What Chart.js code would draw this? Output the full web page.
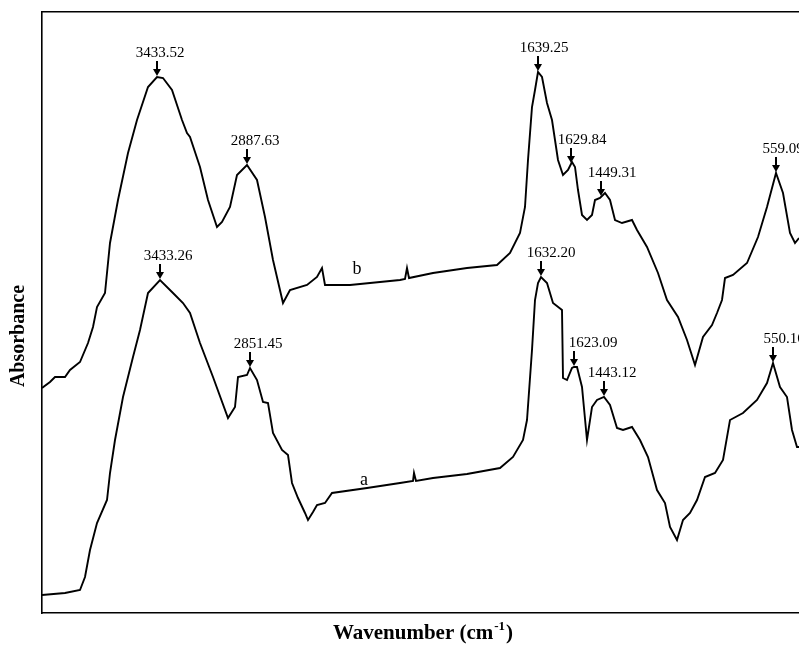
<!DOCTYPE html>
<html>
<head>
<meta charset="utf-8">
<script src="https://cdn.jsdelivr.net/npm/chart.js@4/dist/chart.umd.min.js"></script>
<style>
  body { margin: 0; background: #fff; }
  #wrap { width: 799px; height: 645px; overflow: hidden; }
</style>
</head>
<body>
<div id="wrap"><canvas id="spectrum" width="799" height="645"></canvas></div>
<script>
// positions along the wavenumber axis (arbitrary units, left = high wavenumber)
// and absorbance (arbitrary units, offset per curve)
var bX = [0, 8, 13, 23, 28, 38, 46, 51, 55, 63, 68, 76, 86, 95, 106, 115, 121, 130, 140, 145, 148, 158, 166, 175, 180, 188, 195, 205, 215, 223, 231, 241, 248, 265, 275, 280, 283, 308, 358, 363, 365, 367, 391, 425, 455, 468, 478, 483, 486, 490, 493, 496, 500, 505, 510, 513, 516, 521, 526, 530, 533, 536, 540, 545, 550, 553, 558, 563, 568, 573, 580, 590, 595, 605, 616, 625, 636, 645, 653, 661, 670, 675, 680, 683, 691, 705, 716, 725, 734, 741, 748, 753, 757];
var bY = [22.5, 23.1, 23.6, 23.6, 24.3, 25.1, 27.0, 28.6, 30.6, 32.0, 37.0, 41.3, 46.0, 49.3, 52.6, 53.6, 53.5, 52.3, 49.3, 48.0, 47.6, 44.6, 41.3, 38.6, 39.1, 40.6, 43.8, 44.8, 43.3, 39.6, 35.3, 31.0, 32.3, 32.8, 33.6, 34.5, 32.8, 32.8, 33.3, 33.4, 34.5, 33.5, 34.0, 34.5, 34.8, 36.0, 38.0, 40.6, 45.3, 50.6, 52.3, 54.1, 53.6, 51.0, 49.3, 47.3, 45.3, 43.8, 44.3, 45.1, 44.6, 42.3, 39.8, 39.3, 39.8, 41.3, 41.5, 42.0, 41.3, 39.3, 39.0, 39.3, 38.3, 36.6, 34.0, 31.3, 29.6, 27.3, 24.8, 27.6, 28.8, 30.0, 31.3, 33.5, 33.8, 35.0, 37.6, 40.6, 44.0, 42.0, 38.0, 37.0, 37.5];

var aX = [0, 23, 38, 43, 48, 55, 65, 68, 73, 81, 91, 98, 106, 118, 131, 141, 148, 158, 171, 186, 193, 196, 205, 208, 215, 221, 226, 231, 240, 246, 250, 256, 263, 266, 271, 275, 283, 290, 325, 358, 371, 372, 374, 391, 425, 458, 471, 481, 485, 490, 493, 496, 499, 505, 511, 520, 521, 525, 530, 532, 535, 540, 545, 550, 555, 562, 568, 575, 581, 590, 598, 606, 615, 623, 628, 635, 641, 648, 655, 663, 673, 681, 688, 701, 715, 725, 731, 738, 745, 750, 755, 757];
var aY = [1.8, 2.0, 2.3, 3.6, 6.3, 9.0, 11.3, 14.0, 17.3, 21.6, 25.6, 28.3, 32.0, 33.3, 32.0, 31.0, 30.0, 27.0, 23.6, 19.5, 20.6, 23.6, 23.8, 24.5, 23.3, 21.1, 21.0, 18.0, 16.3, 15.8, 13.0, 11.5, 10.0, 9.3, 10.1, 10.8, 11.0, 12.0, 12.5, 13.0, 13.2, 14.0, 13.2, 13.5, 13.9, 14.5, 15.6, 17.3, 19.3, 26.3, 31.3, 33.0, 33.6, 33.0, 31.0, 30.3, 23.5, 23.3, 24.5, 24.6, 24.6, 22.6, 17.3, 20.6, 21.3, 21.6, 20.8, 18.5, 18.3, 18.6, 17.3, 15.6, 12.3, 11.0, 8.6, 7.3, 9.3, 10.0, 11.3, 13.6, 14.0, 15.3, 19.3, 20.0, 21.3, 23.0, 25.0, 22.6, 21.6, 18.3, 16.6, 16.6];

// marked peaks (label text and axis position)
var bPeakLabels = ['3433.52', '2887.63', '1639.25', '1629.84', '1449.31', '559.09'];
var bPeakPos = [115, 205, 496, 529, 559, 734];
var aPeakLabels = ['3433.26', '2851.45', '1632.20', '1623.09', '1443.12', '550.16'];
var aPeakPos = [118, 208, 499, 532, 562, 731];

// curve names and where they sit
var curveNames = ['b', 'a'];
var curveNamePos = [[315, 34.5], [322, 13.4]];

function toPoints(xs, ys) {
    return xs.map(function (x, i) { return { x: x, y: ys[i] }; });
}

function valueAt(xs, ys, x) {
    for (var i = 1; i < xs.length; i++) {
        if (xs[i] >= x) {
            var t = (x - xs[i - 1]) / (xs[i] - xs[i - 1]);
            return ys[i - 1] + t * (ys[i] - ys[i - 1]);
        }
    }
    return ys[ys.length - 1];
}

var serif = '"Liberation Serif", "Times New Roman", serif';

// text shift of each peak label relative to its arrow
var bShift = [3, 8, 6, 11, 11, 7];
var aShift = [8, 8, 10, 19, 8, 11];

var peakMarks = {
    id: 'peakMarks',
    afterDatasetsDraw: function (chart) {
        var ctx = chart.ctx;
        var xs = chart.scales.x, ys = chart.scales.y;
        var groups = [
            [bPeakLabels, bPeakPos, bX, bY, bShift],
            [aPeakLabels, aPeakPos, aX, aY, aShift]
        ];
        ctx.save();
        ctx.fillStyle = '#000';
        ctx.strokeStyle = '#000';
        groups.forEach(function (g) {
            g[0].forEach(function (label, i) {
                var px = Math.round(xs.getPixelForValue(g[1][i]));
                var tip = ys.getPixelForValue(valueAt(g[2], g[3], g[1][i])) - 1;
                ctx.lineWidth = 2;
                ctx.beginPath();
                ctx.moveTo(px, tip - 15);
                ctx.lineTo(px, tip - 6);
                ctx.stroke();
                ctx.beginPath();
                ctx.moveTo(px - 4, tip - 7);
                ctx.lineTo(px + 4, tip - 7);
                ctx.lineTo(px, tip);
                ctx.closePath();
                ctx.fill();
                ctx.font = '15px ' + serif;
                ctx.textAlign = 'center';
                ctx.textBaseline = 'alphabetic';
                ctx.fillText(label, px + g[4][i], tip - 19);
            });
        });
        ctx.font = '18px ' + serif;
        ctx.textAlign = 'center';
        ctx.textBaseline = 'alphabetic';
        curveNames.forEach(function (n, i) {
            ctx.fillText(n, xs.getPixelForValue(curveNamePos[i][0]), ys.getPixelForValue(curveNamePos[i][1]) + 6);
        });
        ctx.restore();
    },
    afterDraw: function (chart) {
        var ctx = chart.ctx;
        ctx.save();
        ctx.fillStyle = '#000';
        // y title
        ctx.translate(19, 336);
        ctx.rotate(-Math.PI / 2);
        ctx.font = 'bold 20px ' + serif;
        ctx.textAlign = 'center';
        ctx.textBaseline = 'middle';
        ctx.fillText('Absorbance', 0, 0);
        ctx.restore();
        // x title with superscript
        ctx.save();
        ctx.fillStyle = '#000';
        ctx.textBaseline = 'alphabetic';
        ctx.textAlign = 'left';
        var main = 'Wavenumber (cm', sup = '-1', tail = ')';
        ctx.font = 'bold 21px ' + serif;
        var w1 = ctx.measureText(main).width, w3 = ctx.measureText(tail).width;
        ctx.font = 'bold 13px ' + serif;
        var w2 = ctx.measureText(sup).width;
        var x0 = 422 - (w1 + w2 + w3) / 2, base = 639;
        ctx.font = 'bold 21px ' + serif;
        ctx.fillText(main, x0, base);
        ctx.font = 'bold 13px ' + serif;
        ctx.fillText(sup, x0 + w1 + 1, base - 9);
        ctx.font = 'bold 21px ' + serif;
        ctx.fillText(tail, x0 + w1 + w2 + 2, base);
        ctx.restore();
    }
};

var hiddenAxis = function (pos, min, max) {
    return {
        type: 'linear', position: pos, display: true, min: min, max: max,
        ticks: { display: false },
        grid: { display: false, drawTicks: false },
        border: { display: true, color: '#000', width: 1.6 },
        title: { display: false }
    };
};

var ctx = document.getElementById('spectrum').getContext('2d');
var spectrumChart = new Chart(ctx, {
    type: 'line',
    data: {
        datasets: [
            { label: 'b', data: toPoints(bX, bY), borderColor: '#000', borderWidth: 1.9, pointRadius: 0, tension: 0, fill: false },
            { label: 'a', data: toPoints(aX, aY), borderColor: '#000', borderWidth: 1.9, pointRadius: 0, tension: 0, fill: false }
        ]
    },
    options: {
        responsive: false,
        animation: false,
        devicePixelRatio: 1,
        layout: { padding: { left: 42, top: 12, right: 0, bottom: 32 } },
        plugins: { legend: { display: false }, tooltip: { enabled: false } },
        scales: {
            x: hiddenAxis('bottom', 0, 757),
            x2: hiddenAxis('top', 0, 1),
            y: hiddenAxis('left', 0, 60.1)
        }
    },
    plugins: [peakMarks]
});
</script>
</body>
</html>
